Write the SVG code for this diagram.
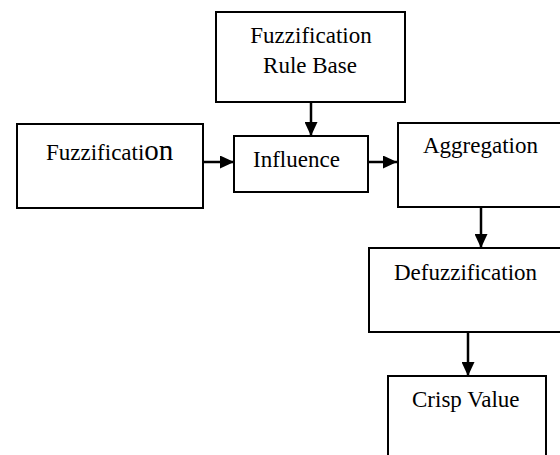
<svg xmlns="http://www.w3.org/2000/svg" width="560" height="455" viewBox="0 0 560 455">
<defs>
<style>
.box{fill:#fff;stroke:#000;stroke-width:2}
.t{font-family:"Liberation Serif","Times New Roman",serif;font-size:23px;fill:#000}
.c{stroke:#000;stroke-width:2.5;fill:none}
</style>
<marker id="ah" markerWidth="14" markerHeight="13" viewBox="0 0 14 13" refX="14" refY="6.5" orient="auto" markerUnits="userSpaceOnUse">
<path d="M0,0 L14,6.5 L0,13 Z" fill="#000"/>
</marker>
</defs>
<rect width="560" height="455" fill="#fff"/>
<g id="rulebase">
<rect class="box" x="216" y="12" width="189" height="90"/>
<text class="t" x="311" y="43" text-anchor="middle">Fuzzification</text>
<text class="t" x="310" y="73" text-anchor="middle">Rule Base</text>
</g>
<g id="fuzzification">
<rect class="box" x="17" y="124" width="186" height="84"/>
<text class="t" x="46" y="160">Fuzzificati<tspan font-size="29">on</tspan></text>
</g>
<g id="influence">
<rect class="box" x="234" y="136" width="134" height="56"/>
<text class="t" x="253" y="167">Influence</text>
</g>
<g id="aggregation">
<rect class="box" x="398" y="123" width="170" height="84"/>
<text class="t" x="423" y="153">Aggregation</text>
</g>
<g id="defuzzification">
<rect class="box" x="369" y="248" width="199" height="84"/>
<text class="t" x="394" y="280">Defuzzification</text>
</g>
<g id="crisp">
<rect class="box" x="388" y="376" width="158" height="90"/>
<text class="t" x="412" y="407">Crisp Value</text>
</g>
<g id="connectors">
<line class="c" x1="311" y1="102" x2="311" y2="136" marker-end="url(#ah)"/>
<line class="c" x1="203" y1="162" x2="234" y2="162" marker-end="url(#ah)"/>
<line class="c" x1="368" y1="162" x2="397" y2="162" marker-end="url(#ah)"/>
<line class="c" x1="481" y1="207" x2="481" y2="248" marker-end="url(#ah)"/>
<line class="c" x1="468" y1="332" x2="468" y2="376" marker-end="url(#ah)"/>
</g>
</svg>
